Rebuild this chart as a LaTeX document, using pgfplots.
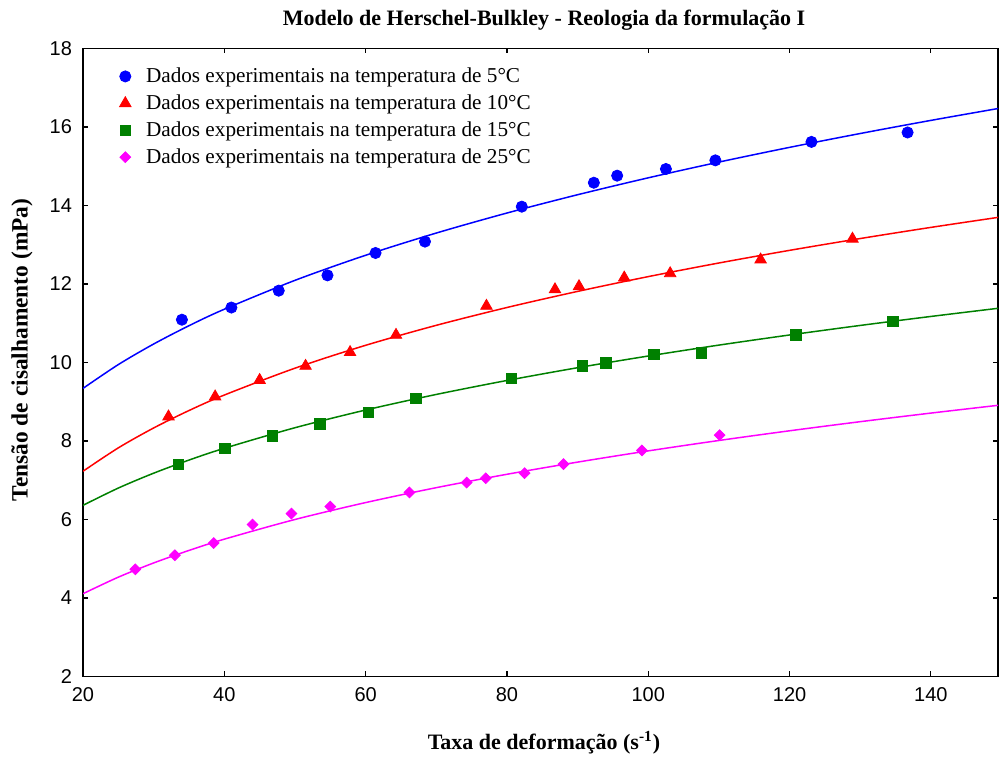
\documentclass[border=0pt]{standalone}
\usepackage{pgfplots}
\pgfplotsset{compat=1.18}
\usepackage{fontspec}
\setmainfont{Liberation Serif}
\newfontfamily\ticksf{Liberation Sans}
\definecolor{cblue}{RGB}{0,0,255}
\definecolor{cred}{RGB}{255,0,0}
\definecolor{cgreen}{RGB}{0,128,0}
\definecolor{cmag}{RGB}{255,0,255}
\begin{document}
\begin{tikzpicture}
\begin{axis}[
  scale only axis,
  width=457.5pt, height=314pt,
  xmin=20, xmax=149.5, ymin=2, ymax=18,
  xtick={20,40,...,140}, ytick={2,4,...,18},
  tick align=inside, major tick length=2.5pt,
  tick style={black, line width=0.6pt},
  axis line style={black, line width=0.75pt},
  /pgf/number format/assume math mode=true,
  ticklabel style={font=\ticksf\fontsize{10}{12}\selectfont},
  xticklabel style={yshift=-2pt},
  yticklabel style={xshift=-2pt},
  title={Modelo de Herschel-Bulkley - Reologia da formulação I},
  title style={font=\bfseries\fontsize{11}{13}\selectfont, at={(axis description cs:0.5,1)}, anchor=base, yshift=5.5pt, xshift=1.75pt},
  xlabel={Taxa de deformação (s\textsuperscript{-1})},
  xlabel style={font=\bfseries\fontsize{11}{13}\selectfont, at={(axis description cs:0.5,0)}, anchor=base, yshift=-36.5pt, xshift=1.75pt},
  ylabel={Tensão de cisalhamento (mPa)},
  ylabel style={font=\bfseries\fontsize{11.7}{13}\selectfont, at={(axis description cs:-0.0667,0.52)}, anchor=center},
  legend style={draw=none, fill=none, at={(axis description cs:0.033,0.983)}, anchor=north west, font=\fontsize{10.6}{12}\selectfont, row sep=0.6pt},
  legend cell align=left,
]
\coordinate (bl) at (rel axis cs:0,0);
\coordinate (tr) at (rel axis cs:1,1);
% fitted curves
\addplot[cblue, line width=0.75pt, smooth, forget plot] coordinates {
(20,9.340) (25,9.947) (30,10.471) (35,10.937) (40,11.357) (50,12.093) (60,12.732) (70,13.298) (80,13.808) (90,14.274) (100,14.705) (110,15.106) (120,15.481) (130,15.834) (140,16.168) (150,16.486)};
\addplot[cred, line width=0.75pt, smooth, forget plot] coordinates {
(20,7.229) (25,7.825) (30,8.332) (35,8.776) (40,9.171) (50,9.855) (60,10.438) (70,10.947) (80,11.401) (90,11.811) (100,12.188) (110,12.535) (120,12.857) (130,13.158) (140,13.442) (150,13.710)};
\addplot[cgreen, line width=0.75pt, smooth, forget plot] coordinates {
(20,6.361) (25,6.801) (30,7.180) (35,7.514) (40,7.814) (50,8.338) (60,8.789) (70,9.186) (80,9.542) (90,9.867) (100,10.165) (110,10.443) (120,10.701) (130,10.944) (140,11.173) (150,11.391)};
\addplot[cmag, line width=0.75pt, smooth, forget plot] coordinates {
(20,4.109) (25,4.531) (30,4.893) (35,5.212) (40,5.499) (50,6.000) (60,6.431) (70,6.811) (80,7.152) (90,7.462) (100,7.748) (110,8.013) (120,8.260) (130,8.492) (140,8.711) (150,8.919)};
% data
\addplot[only marks, mark=*, mark size=2.8pt, draw=cblue, fill=cblue] coordinates {
(34.0,11.09) (41.0,11.40) (47.7,11.83) (54.6,12.22) (61.4,12.79) (68.4,13.08) (82.1,13.97) (92.3,14.58) (95.6,14.76) (102.5,14.93) (109.5,15.15) (123.1,15.62) (136.7,15.86)};
\addlegendentry{\hspace{5.5pt}Dados experimentais na temperatura de 5°C}
\addplot[only marks, mark=triangle*, mark size=3.3pt, draw=cred, fill=cred] coordinates {
(32.1,8.62) (38.7,9.13) (45.0,9.55) (51.5,9.91) (57.8,10.26) (64.3,10.70) (77.1,11.44) (86.8,11.86) (90.2,11.94) (96.6,12.16) (103.1,12.27) (115.9,12.62) (128.9,13.15)};
\addlegendentry{\hspace{5.5pt}Dados experimentais na temperatura de 10°C}
\addplot[only marks, mark=square*, mark size=2.6pt, draw=cgreen, fill=cgreen] coordinates {
(33.5,7.41) (40.1,7.81) (46.8,8.13) (53.5,8.44) (60.4,8.73) (67.1,9.09) (80.6,9.60) (90.7,9.91) (94.0,9.99) (100.8,10.20) (107.5,10.24) (120.9,10.70) (134.6,11.05)};
\addlegendentry{\hspace{5.5pt}Dados experimentais na temperatura de 15°C}
\addplot[only marks, mark=square*, mark size=1.9pt, mark options={rotate=45}, draw=cmag, fill=cmag] coordinates {
(27.4,4.73) (33.0,5.09) (38.5,5.40) (44.0,5.87) (49.5,6.15) (55.0,6.33) (66.2,6.69) (74.3,6.94) (77.0,7.05) (82.5,7.18) (88.0,7.41) (99.1,7.76) (110.1,8.15)};
\addlegendentry{\hspace{5.5pt}Dados experimentais na temperatura de 25°C}
\end{axis}
\pgfresetboundingbox
\path[use as bounding box] ([xshift=-41.5pt,yshift=-40.75pt]bl) rectangle ([xshift=0.5pt,yshift=24.25pt]tr);
\end{tikzpicture}
\end{document}
